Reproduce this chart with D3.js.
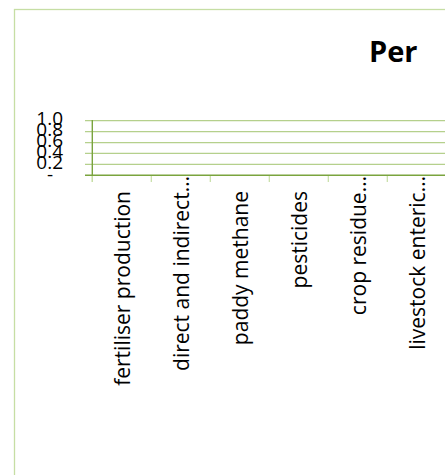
<!DOCTYPE html>
<html><head><meta charset="utf-8">
<script src="https://cdn.jsdelivr.net/npm/d3@7"></script>
<style>body{margin:0;background:#fff;}svg{display:block;font-family:"Open Sans","Liberation Sans",sans-serif;}</style>
</head><body>
<svg id="c" width="445" height="475"></svg>
<script>
const categories = ["fertiliser production","direct and indirect…","paddy methane","pesticides","crop residue…","livestock enteric…"];
const values = [0,0,0,0,0,0];
const tickValues = [0,0.2,0.4,0.6,0.8,1.0];
const tickLabels = ["-  ","0.2","0.4","0.6","0.8","1.0"];
const title = "Per";

const svg = d3.select("#c");
// chart frame
svg.append("rect").attr("x",14.5).attr("y",9.5).attr("width",600).attr("height",600)
  .attr("fill","#fff").attr("stroke","#c6dea4").attr("stroke-width",1.3);

svg.append("text").attr("x",369).attr("y",62).attr("font-size",29).attr("font-weight","bold")
  .attr("fill","#000").text(title);

const x = d3.scaleBand().domain(categories).range([92.3, 92.3+6*59]);
const y = d3.scaleLinear().domain([0,1]).range([175.3,120.7]);

// gridlines
svg.append("g").selectAll("line").data(tickValues.slice(1)).join("line")
  .attr("x1",85).attr("x2",460).attr("y1",d=>y(d)).attr("y2",d=>y(d))
  .attr("stroke","#b5d08c").attr("stroke-width",1.2);

// y labels
svg.append("g").selectAll("text").data(tickValues).join("text")
  .attr("x",63).attr("y",d=>y(d)+ (d===0?5.5:4.3)).attr("text-anchor","end")
  .style("white-space","pre")
  .attr("font-size",19).attr("fill","#000").text((d,i)=>tickLabels[i]);

// category ticks
const bounds = categories.map(c=>x(c));
svg.append("g").selectAll("line").data(bounds).join("line")
  .attr("x1",d=>d).attr("x2",d=>d).attr("y1",175.3).attr("y2",182)
  .attr("stroke","#c6dea4").attr("stroke-width",1.2);

// bars (zero values)
svg.append("g").selectAll("rect").data(values).join("rect")
  .attr("x",(d,i)=>x(categories[i])+x.bandwidth()*0.2).attr("width",x.bandwidth()*0.6)
  .attr("y",d=>y(d)).attr("height",d=>y(0)-y(d)).attr("fill","#77933c");

// axes
svg.append("line").attr("x1",92.3).attr("x2",92.3).attr("y1",176).attr("y2",182)
  .attr("stroke","#c6dea4").attr("stroke-width",1.2);
svg.append("line").attr("x1",85).attr("x2",460).attr("y1",175.3).attr("y2",175.3)
  .attr("stroke","#7aa43e").attr("stroke-width",1.4);
svg.append("line").attr("x1",92.3).attr("x2",92.3).attr("y1",120).attr("y2",176)
  .attr("stroke","#7aa43e").attr("stroke-width",1.4);

// x labels
svg.append("g").selectAll("text").data(categories).join("text")
  .attr("transform",d=>`translate(${x(d)+x.bandwidth()/2},${d.endsWith("…")?176:191}) rotate(-90)`)
  .attr("text-anchor","end").attr("dominant-baseline","central")
  .attr("font-size",21).attr("fill","#000").text(d=>d);
</script>
</body></html>
